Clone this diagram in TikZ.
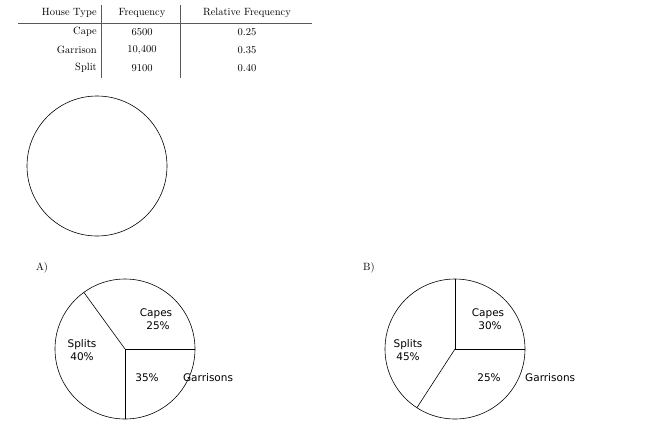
\documentclass[tikz,border=0pt]{standalone}
\usepackage{fontspec}
\newfontfamily\piefont{DejaVu Sans}
\usetikzlibrary{positioning}

\begin{document}
\begin{tikzpicture}[x=1pt,y=-1pt]
			\tikzstyle{Cell}	= [inner sep=0pt, font=\fontsize{10.5}{12}\selectfont]
			\tikzstyle{Left}	= [Cell, anchor=east]
			\tikzstyle{Rule}	= [line width=0.8pt, gray!70!black]
			\tikzstyle{Pie}		= [line width=0.6pt]
			\tikzstyle{Slice}	= [inner sep=0pt, align=center, font=\piefont\fontsize{10.5}{12.5}\selectfont]
			\useasboundingbox (0,0) rectangle (650,426);

			% table
			\node (hType) at (97,13) [Left] {House Type};
			\node (hFreq) at (142,13) [Cell] {Frequency};
			\node (hRel) at (247,13) [Cell] {Relative Frequency};
			\foreach \n/\t/\f/\r/\y in {cape/Cape/6500/0.25/32, garr/Garrison/{10,400}/0.35/50, split/Split/9100/0.40/68} {
				\node (t\n) at (97,\y) [Left] {\t};
				\node (f\n) at (142,\y) [Cell] {\f};
				\node (r\n) at (247,\y) [Cell] {\r};
			}
			\coordinate (ruleL) at (18,23);
			\coordinate (ruleR) at (312,23);
			\draw [Rule] (ruleL) -- (ruleR);
			\foreach \x in {101, 180}
				\draw [Rule] (\x,5) -- (\x,78);

			% empty circle
			\coordinate (blank) at (97,166);
			\draw [Pie] (blank) circle [radius=70];

			% choice A
			\node (labA) at (42,268) [Cell] {A)};
			\coordinate (cA) at (125,349);
			\draw [Pie] (cA) circle [radius=70];
			\draw [Pie] (cA) -- +(90:70);
			\draw [Pie] (cA) -- +(0:70);
			\draw [Pie] (cA) -- +(234:70);
			\node (capA) at (156,319) [Slice] {Capes\\\hspace*{4pt}25\%};
			\node (splA) at (82,350) [Slice] {Splits\\40\%};
			\node (garA) at (147,378) [Slice] {35\%};
			\node (gnA) [Slice, right=4pt of garA.east, xshift=20pt, anchor=west] {Garrisons};

			% choice B
			\node (labB) at (369,268) [Cell] {B)};
			\coordinate (cB) at (455,349);
			\draw [Pie] (cB) circle [radius=70];
			\draw [Pie] (cB) -- +(123:70);
			\draw [Pie] (cB) -- +(0:70);
			\draw [Pie] (cB) -- +(270:70);
			\node (capB) at (488,319) [Slice] {Capes\\\hspace*{4pt}30\%};
			\node (splB) at (408,350) [Slice] {Splits\\45\%};
			\node (garB) at (489,378) [Slice] {25\%};
			\node (gnB) at (525,378) [Slice, anchor=west] {Garrisons};
\end{tikzpicture}
\end{document}
